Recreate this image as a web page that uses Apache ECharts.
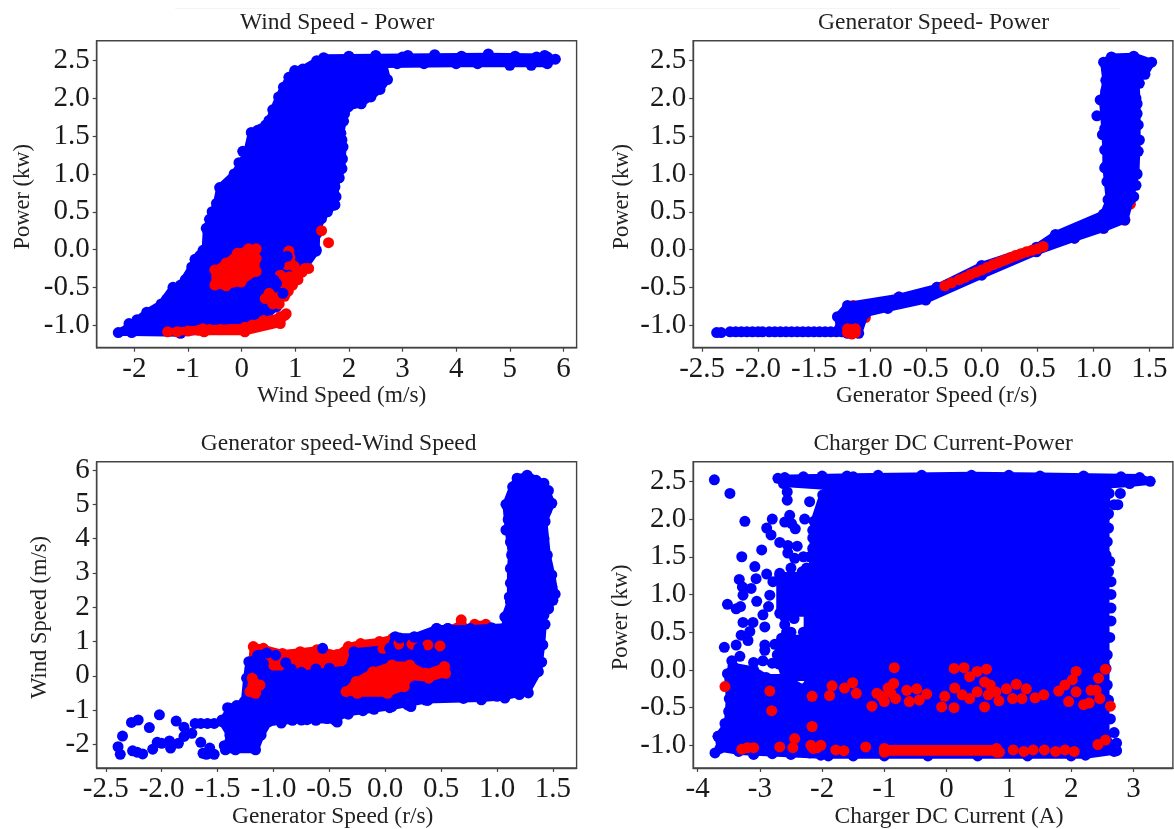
<!DOCTYPE html>
<html><head><meta charset="utf-8">
<style>html,body{margin:0;padding:0;background:#fff}#c{width:1174px;height:829px}</style>
<script src="https://cdn.jsdelivr.net/npm/echarts@6/dist/echarts.min.js"></script>
</head><body><div id="c"></div>
<script>
const titles = ['Wind Speed - Power','Generator Speed- Power','Generator speed-Wind Speed','Charger DC Current-Power'];
const xNames = ['Wind Speed (m/s)','Generator Speed (r/s)','Generator Speed (r/s)','Charger DC Current (A)'];
const yNames = ['Power (kw)','Power (kw)','Wind Speed (m/s)','Power (kw)'];
const ticksInt = [-4,-3,-2,-1,0,1,2,3];
const ticksWind = [-2,-1,0,1,2,3,4,5,6];
const ticksSpeed = [-2.5,-2,-1.5,-1,-0.5,0,0.5,1,1.5];
const ticksPower = [-1,-0.5,0,0.5,1,1.5,2,2.5];
const ticksWindY = [-2,-1,0,1,2,3,4,5,6];

// Panel 1: wind speed vs power
const p1Blue = [[-2.3,-1.1],[-2.1,-1.02],[-1.77,-0.83],[-1.5,-0.72],[-1.28,-0.5],[-1.14,-0.47],[-0.93,-0.23],[-0.87,-0.13],[-0.68,0],[-0.66,0.28],[-0.47,0.61],[-0.41,0.82],[-0.14,1.0],[0.09,1.27],[0.18,1.55],[0.37,1.6],[0.51,1.71],[0.69,2.02],[0.88,2.28],[0.99,2.37],[1.14,2.39],[1.4,2.5],[1.53,2.54],[3,2.55],[4.6,2.56],[5.7,2.55],[5.85,2.52],[5.7,2.46],[4,2.46],[2.65,2.45],[2.72,2.25],[2.58,2.12],[2.41,2.02],[2.23,1.93],[1.99,1.89],[1.92,1.8],[1.85,1.54],[1.89,1.36],[1.87,1.07],[1.74,0.83],[1.76,0.7],[1.73,0.59],[1.49,0.41],[1.4,0.21],[1.39,-0.02],[1.18,-0.23],[0.93,-0.45],[0.77,-0.58],[0.65,-0.76],[0.41,-0.91],[-0.29,-1.04],[-1.14,-1.11],[-2.05,-1.1]];
const p1BlueDots = [[-2.1,-0.98],[-1.95,-0.93],[-1.6,-0.8],[-1.4,-0.66],[-1.05,-0.4],[-0.78,-0.08],[-0.72,-0.01],[-0.6,0.4],[-0.55,0.5],[-0.3,0.85],[-0.05,1.15],[0.02,1.3],[0.3,1.58],[0.45,1.65],[0.58,1.85],[0.78,2.15],[1.03,2.3],[1.9,1.7],[1.87,1.45],[1.88,1.2],[1.82,0.95],[1.6,0.5],[1.74,0.59],[2,2.56],[2.5,2.57],[3.1,2.57],[3.6,2.58],[4.1,2.56],[4.6,2.59],[5.1,2.56],[5.5,2.55],[5.65,2.57],[2.9,2.46],[3.4,2.46],[4.4,2.46],[5,2.44],[5.4,2.44],[2.5,2.2]];
const p1RedBlob = [[0.13,0.01],[0.27,0.01],[0.27,-0.12],[0.27,-0.29],[-0.01,-0.43],[-0.29,-0.48],[-0.5,-0.47],[-0.5,-0.27],[-0.29,-0.18],[-0.08,-0.05]];
const p1RedStrip = [[-1.38,-1.09],[-0.72,-1.05],[0.06,-1.03],[0.41,-0.94],[0.72,-0.89],[0.83,-0.85],[0.72,-0.98],[0.06,-1.09],[-0.7,-1.09]];
const p1RedMid = [[0.72,-0.34],[0.9,-0.36],[1.18,-0.25],[0.83,-0.49],[0.72,-0.44]];
const p1RedLow = [[0.51,-0.58],[0.55,-0.62],[0.72,-0.62],[0.65,-0.69],[0.44,-0.65]];
const p1RedTop = [[0.88,-0.02],[0.9,-0.1],[0.98,-0.22],[0.85,-0.2]];
const p1RedDots = [[1.49,0.25],[1.62,0.09],[1.25,-0.25],[1.13,-0.3],[1.05,-0.4],[0.95,-0.47],[0.87,-0.55],[0.8,-0.62],[0.7,-0.72],[0.58,-0.72],[0.5,-0.62],[0.81,-0.87],[-1.2,-1.09],[-1,-1.08],[-0.8,-1.07],[-0.6,-1.06],[-0.4,-1.06],[-0.2,-1.06],[0,-1.06],[0.2,-1],[0.4,-0.97],[0.6,-0.95]];
const p1BlueTop = [[1.4,0.41],[0.85,-0.09],[0.77,-0.58],[0.65,-0.45],[1.39,0],[1.3,0.1],[0.7,-0.2],[0.75,-0.12],[0.6,-0.4]];

// Panel 2: generator speed vs power
const p2Blue = [[-1.29,-0.89],[-1.2,-0.74],[-0.74,-0.63],[-0.4,-0.5],[0,-0.21],[0.49,0.03],[0.66,0.2],[1.09,0.47],[1.14,0.66],[1.11,1.1],[1.11,1.32],[1.1,1.6],[1.08,1.98],[1.11,2.24],[1.09,2.48],[1.16,2.55],[1.36,2.56],[1.52,2.48],[1.46,2.32],[1.38,2.24],[1.39,1.93],[1.39,1.45],[1.38,1.01],[1.33,0.66],[1.28,0.39],[1.09,0.28],[0.83,0.15],[0.49,-0.03],[0,-0.34],[-0.5,-0.67],[-0.84,-0.78],[-1.04,-0.85],[-1.1,-1.11],[-1.2,-1.11],[-1.27,-1.04]];
const p2BlueDots = [[-2.37,-1.1],[-2.33,-1.1],[-2.25,-1.09],[-2.2,-1.09],[-2.15,-1.09],[-2.1,-1.09],[-2.05,-1.09],[-2,-1.09],[-1.96,-1.09],[-1.9,-1.09],[-1.85,-1.09],[-1.8,-1.09],[-1.75,-1.09],[-1.7,-1.09],[-1.65,-1.09],[-1.6,-1.09],[-1.55,-1.09],[-1.5,-1.09],[-1.45,-1.09],[-1.4,-1.09],[-1.35,-1.09],[-1.3,-1.09],[-1.25,-1.09],[1.03,1.77],[1.08,1.52],[1.06,1.98],[1.1,1.32],[1.12,0.9],[1.1,1.08],[1.13,0.66],[1.39,1.8],[1.41,1.45],[1.4,1.3],[1.39,1.0],[1.38,0.85],[1.36,0.7],[1.41,2.2],[1.38,2.0],[1.4,1.65],[1.11,2.1],[1.12,1.85]];
const p2RedEdge = [[1.33,0.6],[1.28,0.39],[1.09,0.28],[0.83,0.15],[-1.15,-0.74],[-0.74,-0.63],[-0.4,-0.5],[-1.04,-0.9]];
const p2RedBand = [[-0.33,-0.48],[-0.27,-0.44],[-0.2,-0.4],[-0.15,-0.37],[-0.1,-0.33],[-0.05,-0.3],[0,-0.27],[0.05,-0.235],[0.1,-0.2],[0.15,-0.17],[0.2,-0.14],[0.25,-0.11],[0.3,-0.08],[0.35,-0.055],[0.4,-0.03],[0.45,-0.01],[0.5,0.01],[0.55,0.04]];
const p2RedDots = [[-1.2,-1.05],[-1.13,-1.05],[-1.2,-1.1],[-1.13,-1.1],[-1.16,-1.12],[-1.16,-1.06]];

// Panel 3: generator speed vs wind speed
const p3Blue = [[-1.43,-2.16],[-1.34,-2.16],[-1.16,-2.16],[-1.11,-1.73],[-1.04,-1.34],[-0.75,-1.29],[-0.45,-1.29],[-0.35,-1.09],[0.06,-0.9],[0.36,-0.71],[0.86,-0.66],[1.07,-0.61],[1.27,-0.46],[1.37,0.12],[1.4,0.9],[1.42,1.77],[1.46,1.97],[1.52,2.38],[1.49,2.94],[1.45,3.52],[1.42,4.49],[1.49,5.03],[1.42,5.61],[1.27,5.85],[1.18,5.76],[1.14,5.51],[1.08,5.0],[1.1,4.25],[1.13,3.52],[1.12,3.13],[1.12,2.16],[1.07,1.72],[1.08,1.43],[0.76,1.38],[0.56,1.38],[0.46,1.38],[0.26,1.14],[0.09,1.14],[0.04,0.8],[-0.28,0.7],[-0.33,0.2],[-0.75,0.05],[-1.05,0.05],[-1.09,0.35],[-1.12,0.6],[-1.22,0.41],[-1.24,-0.07],[-1.26,-0.75],[-1.39,-0.95],[-1.46,-1.34],[-1.39,-1.73]];
const p3BlueDots = [[-2.39,-2.07],[-2.37,-2.29],[-2.35,-1.76],[-2.27,-1.36],[-2.21,-1.29],[-2.26,-2.19],[-2.22,-2.23],[-2.17,-2.28],[-2.11,-1.51],[-2.08,-2.14],[-2.04,-1.94],[-2,-1.97],[-2.02,-1.14],[-1.93,-1.9],[-1.92,-2.11],[-1.87,-1.32],[-1.85,-1.97],[-1.8,-1.5],[-1.8,-1.77],[-1.73,-1.68],[-1.7,-1.39],[-1.65,-1.39],[-1.65,-1.94],[-1.63,-2.26],[-1.6,-2.29],[-1.57,-2.11],[-1.53,-2.29],[-1.59,-1.39],[-1.53,-1.39],[-1.46,-1.29],[-1.44,-2.04],[-1.41,-0.93],[-1.33,-0.87],[-1,-1.3],[-0.93,-1.38],[-0.83,-1.3],[-0.7,-1.28],[-0.62,-1.3],[-0.52,-1.25],[-0.43,-1.35],[-0.33,-1.12],[-0.2,-1.02],[-0.1,-0.98],[0.04,-0.93],[0.2,-0.85],[0.23,-0.9],[0.38,-0.72],[0.5,-0.62],[0.6,-0.6],[0.7,-0.66],[0.86,-0.7],[1,-0.6],[1.07,-0.65],[1.2,-0.55],[1.28,-0.5],[1.36,0.2],[1.4,0.4],[1.41,0.9],[1.43,1.5],[1.46,1.95],[1.5,2.2],[1.49,2.6],[1.48,2.9],[1.45,3.2],[1.42,3.55],[1.42,4],[1.43,4.5],[1.44,4.8],[1.46,5.4],[1.35,5.7],[1.1,4.55],[1.08,4.25],[1.12,3.9],[1.14,3.5],[1.12,2.7],[1.11,2.3],[-0.62,0.2],[-0.5,0.22],[-0.75,0.1],[-0.87,0.1]];
const p3RedUnder = [[-1.18,0.85],[-1.09,0.8],[-0.92,0.65],[-0.76,0.7],[-0.61,0.76],[-0.43,0.62],[-0.33,0.85],[-0.22,0.94],[-0.05,1],[0.07,1.1],[0.26,1],[0.46,1.19],[0.68,1.5],[0.68,1.63],[0.72,1.3],[0.8,1.5],[0.9,1.5],[1,1.3],[1,0.5],[0,0.3],[-1,0],[-1.24,-1]];
const p3RedLow = [[-1.17,-1.39],[-1.13,-1.3],[-1.2,-1.2]];
const p3RedLeft = [[-1.19,-0.07],[-1.12,-0.27],[-1.16,-0.51],[-1.21,-0.46]];
const p3RedBlob = [[-0.35,-0.46],[-0.26,-0.17],[-0.11,0.12],[0.06,0.31],[0.22,0.31],[0.36,0.07],[0.53,0.27],[0.54,0.07],[0.39,-0.07],[0.22,-0.02],[0.17,-0.32],[0.02,-0.51],[-0.25,-0.51]];
const p3RedDots = [[0.12,0.92],[0.24,0.92],[0.38,0.9],[0.49,0.87],[-0.02,0.8]];
const p3BlueTop = [[-0.56,0.8],[-0.89,0.38],[-0.84,0.2],[-1.06,0.66],[-1.14,0.6],[-1.18,0.4],[0.04,0.8],[0.46,1.38],[0.56,1.38],[-0.98,0.6],[0.3,0.8],[0.13,1.1],[0.26,1.12],[0.95,1.4],[0.72,1.1]];

// Panel 4: charger DC current vs power
const p4Blue = [[-2.71,2.54],[-1.5,2.56],[0.4,2.58],[1.5,2.57],[3.1,2.55],[3.27,2.5],[2.94,2.47],[2.58,2.45],[2.56,2.05],[2.56,1.52],[2.56,1.17],[2.56,0.64],[2.56,0.02],[2.56,-0.47],[2.56,-0.86],[2.69,-1.08],[2.23,-1.13],[-2.02,-1.13],[-3.34,-1.08],[-3.64,-1.04],[-3.67,-0.88],[-3.52,-0.71],[-3.49,-0.38],[-3.52,-0.05],[-3.43,0.05],[-3.1,0],[-2.9,-0.1],[-2.6,-0.1],[-2.3,-0.25],[-2.08,0.02],[-2.17,0.73],[-2.15,1.61],[-2.13,1.97],[-1.99,2.32],[-1.9,2.43],[-2.62,2.47]];
const p4BlueUpper = [[-2.68,1.25],[-2.15,1.25],[-2.15,0.75],[-2.68,0.75]];
const p4BlueLower = [[-2.65,0.42],[-2.15,0.42],[-2.15,-0.1],[-2.6,-0.1],[-2.72,0.2]];
const p4BlueBridge = [[-2.24,1],[-2.15,1],[-2.15,0.2],[-2.24,0.2]];
const p4BlueDots = [[-3.73,2.52],[-3.48,2.34],[-3.24,1.97],[-2.8,2.0],[-2.89,1.88],[-2.82,1.79],[-2.68,1.69],[-2.97,1.59],[-2.56,2.36],[-2.56,2.25],[-2.2,2.23],[-2.52,2.05],[-2.6,1.96],[-2.49,1.94],[-2.43,1.87],[-2.28,2],[-2.4,1.64],[-2.55,1.65],[-2.55,1.55],[-3.29,1.5],[-2.44,1.48],[-3.08,1.37],[-2.68,1.28],[-2.89,1.27],[-3.33,1.2],[-3.06,1.21],[-2.79,1.17],[-2.5,1.35],[-2.32,1.3],[-3.28,1.1],[-3.14,1.08],[-3.27,0.99],[-3.05,0.91],[-2.84,0.99],[-3.52,0.87],[-3.38,0.81],[-3.31,0.84],[-2.95,0.73],[-2.86,0.84],[-3.27,0.63],[-3.11,0.63],[-2.92,0.57],[-3.3,0.46],[-3.19,0.39],[-3.16,0.51],[-3.38,0.33],[-3.57,0.3],[-2.92,0.33],[-2.92,0.26],[-2.76,0.34],[-3.32,0.18],[-2.8,0.09],[-2.14,1.59],[-2.3,1.5],[-2.25,1.35],[-2.2,1.5],[-2.15,1.75],[-2.15,1.85],[-2.6,0.6],[-2.57,0.5],[-2.6,0.7],[-2.45,0.68],[-2.3,0.5],[-2.5,0.5],[-3.1,0.1],[-2.95,0.12],[-2.7,0.08],[2.61,2.34],[2.79,2.34],[2.69,2.19],[2.75,2.19],[2.6,2.07],[2.6,1.88],[2.62,1.44],[2.64,1.17],[2.64,1],[2.64,0.82],[2.64,0.65],[2.62,0.43],[2.63,-0.65],[2.69,-0.83],[2.73,-0.97],[2.73,-1.07],[-3.72,-1.1],[-3.67,-0.88],[-3.56,-0.71],[-2.6,2.55],[-2.3,2.56],[-2,2.57],[-1.6,2.57],[-1.1,2.58],[-0.4,2.58],[1,2.58],[2.2,2.57],[2.8,2.56],[2.58,1.7],[2.6,1.3],[2.58,0.2],[2.58,-0.2],[2.6,-0.4],[-3.1,-1.12],[-2.8,-1.11],[-2.5,-1.12],[-2.2,-1.1],[-1.9,-1.14],[-1.5,-1.14],[-1,-1.14],[-0.3,-1.14],[0.5,-1.14],[1.3,-1.14],[2,-1.14],[-3.45,-0.2],[-3.5,-0.55],[-3.45,0.12]];
const p4RedStrip = [[-1,-1.04],[0.8,-1.04],[0.8,-1.09],[-1,-1.09]];
const p4RedDots = [[-0.84,0.03],[0.12,0.02],[0.28,0.03],[0.37,-0.09],[0.49,-0.02],[0.64,0.01],[2.08,-0.02],[2.55,0.01],[-1.84,-0.21],[-1.64,-0.24],[-1.51,-0.17],[-1.45,-0.31],[-1.88,-0.34],[-1.2,-0.48],[-1.12,-0.31],[-1,-0.42],[-0.94,-0.24],[-0.85,-0.18],[-0.82,-0.38],[-1.05,-0.35],[-0.9,-0.3],[-0.64,-0.27],[-0.6,-0.42],[-0.48,-0.25],[-0.44,-0.4],[-0.32,-0.32],[-0.08,-0.49],[-0.03,-0.35],[0.12,-0.5],[0.13,-0.24],[0.25,-0.33],[0.37,-0.38],[0.49,-0.29],[0.61,-0.16],[0.7,-0.2],[0.61,-0.49],[0.67,-0.33],[0.79,-0.29],[0.84,-0.41],[0.96,-0.25],[1.12,-0.19],[1.06,-0.38],[1.21,-0.38],[1.28,-0.25],[1.42,-0.37],[1.56,-0.33],[1.8,-0.28],[1.9,-0.2],[2.02,-0.13],[1.96,-0.42],[2.08,-0.29],[2.2,-0.46],[2.29,-0.44],[2.32,-0.27],[2.44,-0.11],[2.4,-0.27],[2.46,-0.38],[2.63,-0.48],[-3.56,-0.22],[-2.84,-0.28],[-2.81,-0.54],[-2.16,-0.35],[-2.16,-0.75],[-2.44,-0.91],[0.85,-1.09],[1.07,-1.06],[1.24,-1.08],[1.39,-1.06],[1.57,-1.06],[1.75,-1.08],[1.9,-1.06],[2.05,-1.08],[2.43,-0.99],[2.55,-0.93],[-3.29,-1.05],[-3.1,-1.03],[-2.68,-1.02],[-2.47,-1.03],[-2.14,-1.04],[-2.02,-1],[-1.78,-1.06],[-1.3,-1.02],[-3.2,-1.03],[-2.18,-1.0],[-2.08,-1.03],[-1.65,-1.07]];

const BLUE = '#0000ff', RED = '#ff0000', FONT = 'Liberation Serif', DOT = 11, EDGE = 7;

const grids = [
  {left:96.7, top:40.7, width:479.9, height:307},
  {left:693.2, top:40.7, width:479.7, height:307},
  {left:96.7, top:461.7, width:479.9, height:306.3},
  {left:693.2, top:461.7, width:479.7, height:306.3}
];
const xRanges = [[-2.703,6.246],[-2.58,1.71],[-2.581,1.712],[-4.07,3.634]];
const yRanges = [[-1.3,2.765],[-1.3,2.765],[-2.69,6.242],[-1.3,2.76]];
const xTicks = [ticksWind,ticksSpeed,ticksSpeed,ticksInt];
const yTicks = [ticksPower,ticksPower,ticksWindY,ticksPower];
const xFmt = [0,1,1,0], yFmt = [1,1,0,1];
const yNameGap = [62,60,45,61];
const titleShift = [-4.5,-4.5,-3,5];
const xNameShift = [5,3.5,-4,16];
const yNameShift = [2.5,2.5,2.5,2.5];

function poly(i,data,color,z){
  return [{type:'custom',xAxisIndex:i,yAxisIndex:i,data:data,z:z,silent:true,clip:false,
    encode:{x:0,y:1},
    renderItem:function(params,api){
      if(params.dataIndex!==0) return null;
      const pts=data.map(function(d){return api.coord(d);});
      return {type:'polygon',shape:{points:pts},style:{fill:color,stroke:color,lineWidth:EDGE,lineJoin:'round'}};
    }},dots(i,data,color,z)];
}
function dots(i,data,color,z){
  return {type:'scatter',xAxisIndex:i,yAxisIndex:i,data:data,z:z,symbol:'circle',symbolSize:DOT,silent:true,
    itemStyle:{color:color,opacity:1},clip:false};
}
function axis(ticks,fmt,range,name,gap,gridIndex,pos,nameSize,namePad){
  return {type:'value',gridIndex:gridIndex,position:pos,min:range[0],max:range[1],
    name:name,nameLocation:'middle',nameGap:gap,
    nameTextStyle:{fontFamily:FONT,fontSize:nameSize,color:'#222',padding:namePad},
    splitLine:{show:false},
    axisLine:{show:true,onZero:false,lineStyle:{color:'#444',width:1.4}},
    axisTick:{show:true,length:4,inside:false,customValues:ticks,lineStyle:{color:'#444',width:1.2}},
    axisLabel:{show:true,margin:7,customValues:ticks,fontFamily:FONT,fontSize:29,color:'#1a1a1a',
      formatter:function(v){return fmt?Number(v).toFixed(1):String(Math.round(v));}}};
}
function pad(s){return s>=0?[0,0,0,2*s]:[0,-2*s,0,0];}
const series=[].concat(
  dots(1,p2RedEdge,RED,1),
  poly(1,p2Blue,BLUE,2), dots(1,p2BlueDots,BLUE,2),
  poly(1,p2RedBand,RED,3), dots(1,p2RedDots,RED,3),

  poly(0,p1Blue,BLUE,2), dots(0,p1BlueDots,BLUE,2),
  poly(0,p1RedBlob,RED,3), poly(0,p1RedStrip,RED,3), poly(0,p1RedMid,RED,3), poly(0,p1RedLow,RED,3), poly(0,p1RedTop,RED,3), dots(0,p1RedDots,RED,3),
  dots(0,p1BlueTop,BLUE,4),

  poly(2,p3RedUnder,RED,1), dots(2,p3RedLow,RED,1),
  poly(2,p3Blue,BLUE,2), dots(2,p3BlueDots,BLUE,2),
  poly(2,p3RedBlob,RED,3), poly(2,p3RedLeft,RED,3), dots(2,p3RedDots,RED,3),
  dots(2,p3BlueTop,BLUE,4),

  poly(3,p4Blue,BLUE,2), poly(3,p4BlueUpper,BLUE,2), poly(3,p4BlueLower,BLUE,2), poly(3,p4BlueBridge,BLUE,2), dots(3,p4BlueDots,BLUE,2),
  poly(3,p4RedStrip,RED,3), dots(3,p4RedDots,RED,3)
);
const option={
  animation:false,backgroundColor:'#fff',
  title:titles.map(function(t,i){return {text:t,left:grids[i].left+grids[i].width/2+titleShift[i],top:grids[i].top-35,textAlign:'center',
    textStyle:{fontFamily:FONT,fontSize:23.5,fontWeight:'normal',color:'#222'}};}),
  grid:grids.map(function(g){return Object.assign({show:true,outerBoundsMode:'none',containLabel:false,borderColor:'#444',borderWidth:1.4,backgroundColor:'transparent'},g);}),
  xAxis:grids.map(function(g,i){return axis(xTicks[i],xFmt[i],xRanges[i],xNames[i],37,i,'bottom',23.4,pad(xNameShift[i]));}),
  yAxis:grids.map(function(g,i){return axis(yTicks[i],yFmt[i],yRanges[i],yNames[i],yNameGap[i],i,'left',22.5,[0,2*yNameShift[i],0,0]);}),
  series:series,
  graphic:[{type:'line',shape:{x1:175,y1:8.5,x2:1120,y2:8.5},style:{stroke:'#f4f4f4',lineWidth:1},silent:true}]
};
echarts.init(document.getElementById('c'),null,{renderer:'canvas'}).setOption(option);
</script>
</body></html>
